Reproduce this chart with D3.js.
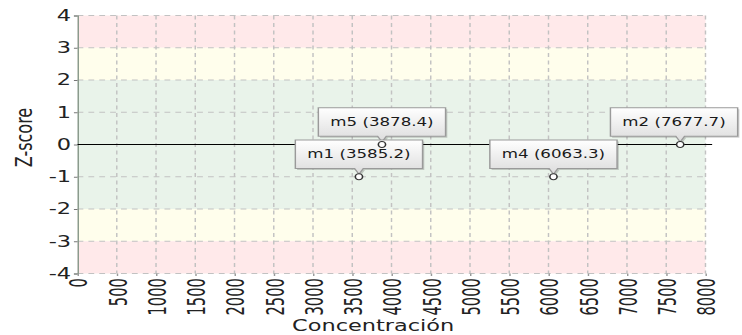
<!DOCTYPE html>
<html>
<head>
<meta charset="utf-8">
<script src="https://cdn.jsdelivr.net/npm/d3@7"></script>
<style>
  html, body { margin: 0; padding: 0; background: #fff; }
  svg { display: block; }
</style>
</head>
<body>
<svg id="chart" width="742" height="335" viewBox="0 0 512 335" preserveAspectRatio="none"></svg>
<script>
// ---- data ----
const pointNames = ["m5", "m1", "m4", "m2"];
const pointConc = [3878.4, 3585.2, 6063.3, 7677.7];
const pointZ = [0, -1, -1, 0];
const xTicks = [0, 500, 1000, 1500, 2000, 2500, 3000, 3500, 4000, 4500, 5000, 5500, 6000, 6500, 7000, 7500, 8000];
const yTicks = [-4, -3, -2, -1, 0, 1, 2, 3, 4];
const bandFrom = [3, 2, -2, -3, -4];
const bandTo = [4, 3, 2, -2, -3];
const bandColor = ["#ffe9ea", "#fffeec", "#e9f3ea", "#fffeec", "#ffe9ea"];
const xTitle = "Concentración";
const yTitle = "Z-score";

// ---- layout (internal units; svg is stretched horizontally to 742px) ----
const W = 512, H = 335;
const mLeft = 53.5, mRight = 486.8, mTop = 15.5, mBottom = 273.5;
const x = d3.scaleLinear().domain([0, 8000]).range([mLeft, mRight]);
const y = d3.scaleLinear().domain([-4, 4]).range([mBottom, mTop]);

const svg = d3.select("#chart");

// bands
svg.append("g").selectAll("rect").data(bandFrom).join("rect")
  .attr("x", mLeft).attr("width", mRight - mLeft)
  .attr("y", (d, i) => y(bandTo[i]))
  .attr("height", (d, i) => y(d) - y(bandTo[i]))
  .attr("fill", (d, i) => bandColor[i]);

// grid
const grid = svg.append("g").attr("stroke", "#c2c2c2").attr("stroke-dasharray", "4,3.5").attr("fill", "none");
grid.selectAll("line.v").data(xTicks.slice(1)).join("line").attr("class", "v")
  .attr("x1", d => x(d)).attr("x2", d => x(d)).attr("y1", mTop).attr("y2", mBottom)
  .attr("stroke-width", 1);
grid.selectAll("line.h").data(yTicks.filter(d => d !== 0)).join("line").attr("class", "h")
  .attr("x1", mLeft).attr("x2", mRight).attr("y1", d => y(d)).attr("y2", d => y(d))
  .attr("stroke-width", 1);

// axes
const yAxis = svg.append("g").attr("transform", `translate(${mLeft},0)`)
  .call(d3.axisLeft(y).tickValues(yTicks).tickSize(2.5).tickPadding(2).tickFormat(d => d < 0 ? "-" + Math.abs(d) : d));
yAxis.select(".domain").attr("stroke", "#8a9a8c").attr("stroke-width", 1);
yAxis.selectAll(".tick line").attr("stroke", "#777");
yAxis.selectAll("text").attr("font-family", "DejaVu Sans, sans-serif").attr("font-size", 15.5).attr("fill", "#222");

const xAxis = svg.append("g").attr("transform", `translate(0,${mBottom})`)
  .call(d3.axisBottom(x).tickValues(xTicks).tickSize(2.5).tickFormat(d3.format("d")));
xAxis.select(".domain").remove();
xAxis.selectAll(".tick line").attr("stroke", "#999");
xAxis.selectAll("text")
  .attr("font-family", "DejaVu Sans, sans-serif").attr("font-size", 17.5).attr("fill", "#222")
  .attr("text-anchor", "end")
  .attr("transform", "rotate(-90) scale(0.84,1)")
  .attr("x", -5.5).attr("y", 0).attr("dy", "0.36em");

// zero line
svg.append("line")
  .attr("x1", mLeft).attr("x2", x(8000) + 4.6)
  .attr("y1", y(0)).attr("y2", y(0))
  .attr("stroke", "#000").attr("stroke-width", 1);

// titles
svg.append("text").text(yTitle)
  .attr("transform", `translate(22,137.5) rotate(-90)`)
  .attr("text-anchor", "middle")
  .attr("font-family", "DejaVu Sans, sans-serif").attr("font-size", 16).attr("fill", "#222");
svg.append("text").text(xTitle)
  .attr("x", 257.5).attr("y", 331.5)
  .attr("text-anchor", "middle")
  .attr("font-family", "DejaVu Sans, sans-serif").attr("font-size", 15.5).attr("fill", "#222");

// callouts
const defs = svg.append("defs");
const grad = defs.append("linearGradient").attr("id", "boxgrad").attr("x1", 0).attr("y1", 0).attr("x2", 0).attr("y2", 1);
grad.append("stop").attr("offset", "0%").attr("stop-color", "#ffffff");
grad.append("stop").attr("offset", "100%").attr("stop-color", "#dcdcdc");

const callouts = svg.append("g");
pointNames.forEach((name, i) => {
  const px = x(pointConc[i]), py = y(pointZ[i]);
  const g = callouts.append("g");
  const label = `${name} (${pointConc[i].toFixed(1)})`;
  const t = g.append("text").text(label)
    .attr("font-family", "DejaVu Sans, sans-serif").attr("font-size", 11.5).attr("fill", "#1a1a1a")
    .attr("text-anchor", "middle").attr("dy", "0.35em");
  const tw = t.node().getComputedTextLength();
  const w = tw + 16.5, h = 28.5;
  let bx = px - w / 2;
  bx = Math.max(2, Math.min(W - 3 - w, bx));
  const by = py - 8.3 - h;
  const tip = py - 2.6;
  const path = `M${bx},${by} H${bx + w} V${by + h} H${px + 3} L${px},${tip} L${px - 3},${by + h} H${bx} Z`;
  g.insert("path", "text").attr("d", path)
    .attr("transform", "translate(1.2,1.5)")
    .attr("fill", "rgba(0,0,0,0.18)");
  g.insert("path", "text").attr("d", path)
    .attr("fill", "url(#boxgrad)").attr("stroke", "#9a9a9a").attr("stroke-width", 1);
  t.attr("x", bx + w / 2).attr("y", by + h / 2);
});

// points
svg.append("g").selectAll("ellipse").data(pointConc).join("ellipse")
  .attr("cx", d => x(d)).attr("cy", (d, i) => y(pointZ[i]))
  .attr("rx", 2.5).attr("ry", 3)
  .attr("fill", "#fff").attr("stroke", "#333").attr("stroke-width", 1.1);
</script>
</body>
</html>
